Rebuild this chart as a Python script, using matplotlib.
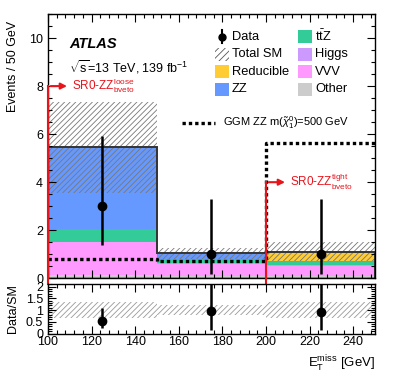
import matplotlib
matplotlib.use("Agg")
import matplotlib.pyplot as plt
import numpy as np
from matplotlib.patches import Rectangle
from matplotlib.ticker import MultipleLocator

plt.rcParams['font.family'] = ['Liberation Sans', 'DejaVu Sans']
plt.rcParams['mathtext.fontset'] = 'custom'
plt.rcParams['mathtext.rm'] = 'Liberation Sans'
plt.rcParams['mathtext.it'] = 'Liberation Sans:italic'
plt.rcParams['hatch.linewidth'] = 0.6

# ---- data ----
edges = [100, 150, 200, 250]
centers = [125, 175, 225]
other = [0.12, 0.10, 0.10]
vvv = [1.38, 0.50, 0.42]
higgs = [0.02, 0.02, 0.02]
ttz = [0.53, 0.13, 0.14]
zz = [3.40, 0.28, 0.02]
reducible = [0.00, 0.02, 0.40]
band_lo = [3.55, 0.82, 0.72]
band_hi = [7.35, 1.27, 1.49]
data = [3, 1, 1]
data_err_lo = [1.63, 0.83, 0.83]
data_err_hi = [2.92, 2.30, 2.30]
signal = [0.80, 0.72, 5.65]

components = [
    ("Other", other, "#cccccc"),
    ("VVV", vvv, "#ff99ff"),
    ("Higgs", higgs, "#cc99ff"),
    ("t$\\bar{\\rm t}$Z", ttz, "#33cc99"),
    ("ZZ", zz, "#6699ff"),
    ("Reducible", reducible, "#ffcc33"),
]

fig = plt.figure(figsize=(3.95, 3.79), dpi=100)
W, H = 395, 379
L, R = 48 / W, 375 / W
ax = fig.add_axes([L, 1 - 278.3 / H, R - L, (278.3 - 14) / H])
axr = fig.add_axes([L, 1 - 333.5 / H, R - L, (333.5 - 284.3) / H])

edges_a = np.array(edges, float)
bottom = np.zeros(3)
for name, vals, col in components:
    v = np.array(vals)
    ax.stairs(bottom + v, edges_a, baseline=bottom, fill=True, color=col, lw=0)
    bottom = bottom + v
total = bottom

# uncertainty band
lo = np.array(band_lo); hi = np.array(band_hi)
ax.bar(edges_a[:-1], hi - lo, bottom=lo, width=np.diff(edges_a), align='edge',
       fill=False, hatch='//////', edgecolor='#777777', lw=0)
# total outline
ax.stairs(total, edges_a, color='#333333', lw=1.4)

# signal
ax.step(np.append(edges_a, 262), np.append(np.append(signal, signal[-1]), signal[-1]),
        where='post', color='black', lw=2.4, ls=(0, (1.0, 0.9)), clip_on=True)

# data
ax.errorbar(centers, data, yerr=[data_err_lo, data_err_hi], fmt='o', color='black',
            ms=6, lw=1.8, capsize=0, zorder=10)

ax.set_xlim(100, 250)
ax.set_ylim(0, 11)
ax.set_ylabel("Events / 50 GeV", fontsize=9, loc='top')
ax.yaxis.set_label_coords(-0.09, 0.975)
ax.yaxis.set_major_locator(MultipleLocator(2))
ax.yaxis.set_minor_locator(MultipleLocator(0.5))
ax.xaxis.set_major_locator(MultipleLocator(20))
ax.xaxis.set_minor_locator(MultipleLocator(4))
ax.tick_params(labelbottom=False)
for a in (ax, axr):
    a.tick_params(which='both', direction='in', top=True, right=True, labelsize=9)
    a.tick_params(which='major', length=6, width=0.8)
    a.tick_params(which='minor', length=3, width=0.8)
    for s in a.spines.values():
        s.set_linewidth(1.0)
ax.axhline(0, color='black', lw=1.0)

# red region markers
red = '#e8141c'
ax.plot([100, 100], [-0.25, 8], color=red, lw=1.5, clip_on=False, zorder=12)
ax.annotate("", xy=(110, 8), xytext=(100, 8),
            arrowprops=dict(arrowstyle='-|>', color=red, lw=1.5, mutation_scale=9), zorder=12)
ax.text(111, 8, "SR0-ZZ$^{\\rm loose}_{\\rm bveto}$", color=red, fontsize=8.5, va='center')
ax.plot([200, 200], [-0.25, 4], color=red, lw=1.5, clip_on=False, zorder=12)
ax.annotate("", xy=(210, 4), xytext=(200, 4),
            arrowprops=dict(arrowstyle='-|>', color=red, lw=1.5, mutation_scale=9), zorder=12)
ax.text(211, 4, "SR0-ZZ$^{\\rm tight}_{\\rm bveto}$", color=red, fontsize=8.5, va='center')

# ATLAS label
ax.text(0.065, 0.887, "ATLAS", transform=ax.transAxes, fontsize=10.5, fontweight='bold',
        fontstyle='italic', va='center')
ax.text(0.065, 0.80, "$\\sqrt{\\rm s}$=13 TeV, 139 fb$^{-1}$", transform=ax.transAxes,
        fontsize=9, va='center')

# legend (manual)
def ax_xy(px, py):
    return ((px - 48) / 327, (278.3 - py) / 264.3)

rows_y = [36.7, 54.0, 71.7, 89.3]
pw, ph = 14 / 327, 13 / 264.3
col1 = [("Data", None), ("Total SM", 'band'), ("Reducible", "#ffcc33"), ("ZZ", "#6699ff")]
col2 = [("t$\\bar{\\rm t}$Z", "#33cc99"), ("Higgs", "#cc99ff"), ("VVV", "#ff99ff"), ("Other", "#cccccc")]
for cx, col in ((215, col1), (298, col2)):
    for (lab, c), py in zip(col, rows_y):
        x0, y0 = ax_xy(cx, py)
        if c is None:
            ax.plot([x0 + pw / 2] * 2, [y0 - ph / 2, y0 + ph / 2], transform=ax.transAxes,
                    color='black', lw=1.5, clip_on=False)
            ax.plot([x0 + pw / 2], [y0], 'o', transform=ax.transAxes, color='black', ms=5)
        elif c == 'band':
            ax.add_patch(Rectangle((x0, y0 - ph / 2), pw, ph, transform=ax.transAxes,
                                   fill=False, hatch='/////', edgecolor='#555555', lw=0))
        else:
            ax.add_patch(Rectangle((x0, y0 - ph / 2), pw, ph, transform=ax.transAxes,
                                   facecolor=c, edgecolor='none'))
        ax.text(x0 + pw + 3 / 327, y0, lab, transform=ax.transAxes, fontsize=9.3, va='center')

# signal legend
x0, y0 = ax_xy(182, 123)
x1, _ = ax_xy(215, 123)
ax.plot([x0, x1], [y0, y0], transform=ax.transAxes, color='black', lw=2.4, ls=(0, (1.0, 0.9)))
x2, _ = ax_xy(223, 123)
ax.text(x2, y0, "GGM ZZ m($\\tilde{\\chi}^{0}_{1}$)=500 GeV", transform=ax.transAxes,
        fontsize=8, va='center')

# ratio panel
tot = np.array(total)
axr.bar(edges_a[:-1], (hi - lo) / tot, bottom=lo / tot, width=np.diff(edges_a), align='edge',
        fill=False, hatch='//////', edgecolor='#999999', lw=0)
ratio = np.array(data) / tot
axr.errorbar(centers, ratio, yerr=[np.array(data_err_lo) / tot, np.array(data_err_hi) / tot],
             fmt='o', color='black', ms=6, lw=1.8, capsize=0)
axr.set_xlim(100, 250)
axr.set_ylim(0, 2.1)
axr.yaxis.set_minor_locator(MultipleLocator(0.1))
axr.xaxis.set_major_locator(MultipleLocator(20))
axr.xaxis.set_minor_locator(MultipleLocator(4))
axr.set_yticks([0, 0.5, 1, 1.5, 2])
axr.set_yticklabels(["0", "0.5", "1", "1.5", "2"])
axr.set_ylabel("Data/SM", fontsize=9)
axr.yaxis.set_label_coords(-0.09, 0.5)
axr.tick_params(axis='x', pad=2)
axr.set_xlabel("E$_{\\rm T}^{\\rm miss}$ [GeV]", fontsize=9.5, loc='right')

fig.savefig("out.png", dpi=100)
